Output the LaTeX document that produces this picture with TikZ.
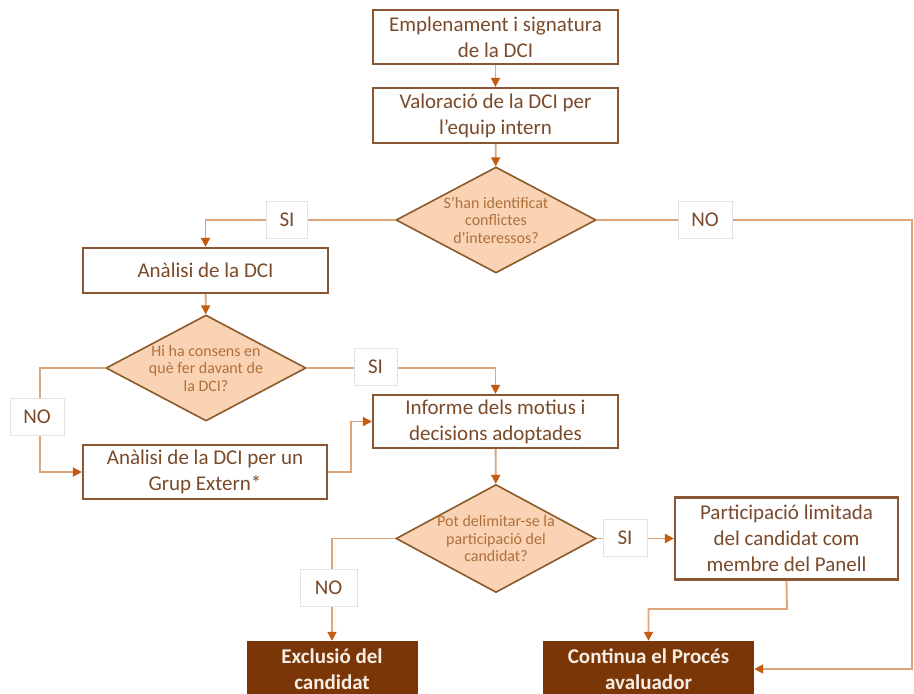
\documentclass[tikz,border=0pt]{standalone}
\usepackage{fontspec}
\setmainfont{Carlito}
\usetikzlibrary{shapes.geometric,arrows.meta,calc}
\definecolor{bxborder}{HTML}{8A5634}
\definecolor{bxtext}{HTML}{7A4A2A}
\definecolor{lnc}{HTML}{DDA57B}
\definecolor{tipc}{HTML}{C55A11}
\definecolor{dfill}{HTML}{F9D3B4}
\definecolor{dborder}{HTML}{8B5A2B}
\definecolor{dtext}{HTML}{B0703C}
\definecolor{darkfill}{HTML}{7B3608}
\definecolor{darktext}{HTML}{F6EDE4}
\definecolor{lblborder}{HTML}{E2E2E2}
\begin{document}
\begin{tikzpicture}[x=1pt,y=-1pt,
 box/.style={draw=bxborder, line width=2.2pt, fill=white, text=bxtext, align=center, font=\fontsize{21}{26}\selectfont, inner sep=0pt},
 dec/.style={diamond, draw=dborder, line width=1.6pt, fill=dfill, minimum width=200pt, minimum height=106pt, inner sep=0pt},
 dectext/.style={text=dtext, align=center, font=\fontsize{16}{17.5}\selectfont, inner sep=0pt},
 endbox/.style={fill=darkfill, text=darktext, align=center, font=\bfseries\fontsize{21}{25.5}\selectfont, inner sep=0pt},
 lbl/.style={draw=lblborder, line width=0.6pt, fill=white, text=bxtext, font=\fontsize{21}{25}\selectfont, minimum height=37pt, inner sep=0pt},
 conn/.style={draw=lnc, line width=1.8pt, -{Triangle[length=9pt,width=9pt,color=tipc]}}
]
\clip (0,0) rectangle (914,694);
\fill[white] (0,0) rectangle (914,694);

% boxes
\node[box, minimum width=245pt, minimum height=54pt] (b1) at (495.5,37) {Emplenament i signatura\\de la DCI};
\node[box, minimum width=245pt, minimum height=55pt] (b2) at (495.5,115.5) {Valoració de la DCI per\\l’equip intern};
\node[dec, label={[dectext]center:{S’han identificat\\conflictes\\d’interessos?}}] (d1) at (496,220) {};
\node[box, minimum width=245pt, minimum height=45pt] (b3) at (205.5,270.5) {Anàlisi de la DCI};
\node[dec, label={[dectext]center:{Hi ha consens en\\què fer davant de\\la DCI?}}] (d2) at (206,368) {};
\node[box, minimum width=244pt, minimum height=54pt] (b4) at (205,472) {Anàlisi de la DCI per un\\Grup Extern*};
\node[box, minimum width=245pt, minimum height=53pt] (b5) at (495.5,421.5) {Informe dels motius i\\decisions adoptades};
\node[dec, minimum height=108pt, label={[dectext]center:{Pot delimitar-se la\\participació del\\candidat?}}] (d3) at (496,538.5) {};
\node[box, minimum width=223pt, minimum height=82pt] (b6) at (786.5,538.5) {Participació limitada\\del candidat com\\membre del Panell};
\node[endbox, minimum width=171pt, minimum height=56pt] (exc) at (332,669) {Exclusió del\\candidat};
\node[endbox, minimum width=211pt, minimum height=56pt] (cont) at (648.5,669) {Continua el Procés\\avaluador};

% connectors
\coordinate (r1) at (912,220);
\coordinate (r2) at (912,669);
\coordinate (l1) at (40,368);
\coordinate (m1) at (351,472);
\coordinate (k1) at (787,609);
\draw[conn] (b1) -- (b2);
\draw[conn] (b2) -- (d1);
\draw[conn] (d1.west) -| (b3.north);
\draw[conn] (d1.east) -- (r1) -- (r2) -- (cont.east |- r2);
\draw[conn] (b3) -- (d2);
\draw[conn] (d2.east) -| (b5.north);
\draw[conn] (d2.west) -- (l1) |- (b4.west);
\draw[conn] (b4.east) -- (m1) |- (b5.west);
\draw[conn] (b5) -- (d3);
\draw[conn] (d3.east) -- (b6.west);
\draw[conn] (d3.west) -| (exc.north);
\draw[conn] (b6.south) -- (k1) -| (cont.north);

% labels
\node[lbl, minimum width=41pt] (si1) at (287,220) {SI};
\node[lbl, minimum width=54pt] (no1) at (705,220) {NO};
\node[lbl, minimum width=43pt] (si2) at (375.5,367) {SI};
\node[lbl, minimum width=54pt] (no2) at (37,417) {NO};
\node[lbl, minimum width=44pt] (si3) at (625,538) {SI};
\node[lbl, minimum width=57pt] (no3) at (328.5,588) {NO};
\end{tikzpicture}
\end{document}
